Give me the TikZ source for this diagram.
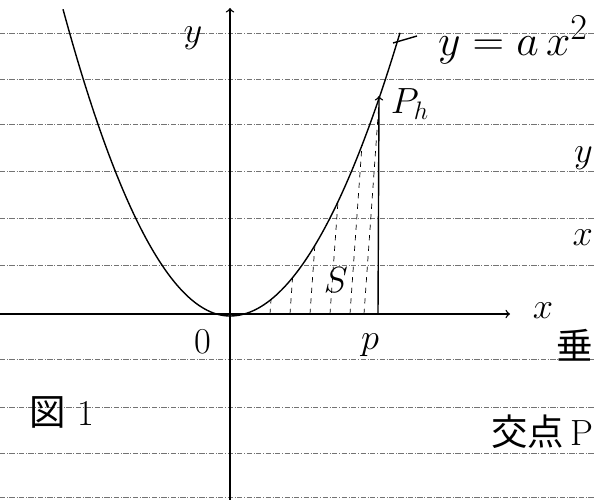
\documentclass[tikz,border=0pt]{standalone}
\usepackage{fontspec}
\newfontfamily\cjk{Noto Sans CJK JP}
\usetikzlibrary{arrows, positioning}

\begin{document}
\begin{tikzpicture}[x=0.02cm, y=-0.02cm, every node/.style={font=\huge, inner sep=1pt},
  ruled/.style={black!55, densely dashdotted, thin},
  curve/.style={black, thick},
  hatch/.style={black, thin, dashed}]
  \useasboundingbox (0,0) rectangle (595,500);
  \clip (0,0) rectangle (595,500);
  % notebook lines
  \foreach \ry in {33,79,124,171,218,265,359,407,453,497}
    \draw[ruled] (0,\ry) -- (595,\ry);

  % axes
  \coordinate (xstart) at (0,314);
  \coordinate (xend) at (510,314);
  \coordinate (ystart) at (230,500);
  \coordinate (yend) at (230,8);
  \draw[->, thick] (xstart) -- (xend);
  \draw[->, thick] (ystart) -- (yend);
  \node (xlabel) at (543,311) {$x$};
  \node (ylabel) at (193,38) {$y$};
  \node (origin) at (203,342) {0};

  % parabola
  \draw[curve] plot[variable=\t, domain=-1.67:0, samples=60] ({230+100*\t},{316-110*\t*\t});
  \draw[curve] plot[variable=\t, domain=0:1.70, samples=60] ({230+100*\t},{316-98*\t*\t});
  \coordinate (curvetip) at (393,43);
  \coordinate (tickend) at (417,36);
  \draw[curve] (curvetip) -- (tickend);
  \node (eq) [anchor=west] at (436,40) {\Huge $y = a\,x^{2}$};

  % area S
  \begin{scope}
    \clip plot[variable=\t, domain=0:1.48, samples=40] ({230+100*\t},{316-98*\t*\t}) -- (378,314) -- cycle;
    \foreach \hx in {270,290,310,330,350,364}
      \draw[hatch] (\hx,314) -- (\hx+18,60);
  \end{scope}
  \node (S) at (336,280) {$S$};

  % point P_h
  \coordinate (P) at (378,314);
  \coordinate (Ph) at (379,96);
  \draw[->, thick] (P) -- (Ph);
  \node (plabel) at (370,345) {$p$};
  \node (phlabel) at (410,104) {$P_h$};

  % margin notes
  \node (fig) at (62,412) {{\cjk 図}\,\,1};
  \node (ynote) [anchor=east] at (595,158) {$y$};
  \node (xnote) [anchor=east] at (595,238) {$x$};
  \node (vert) [anchor=east] at (595,345) {\cjk 垂};
  \node (cross) [anchor=east] at (595,432) {{\cjk 交点}\,P};
\end{tikzpicture}
\end{document}
